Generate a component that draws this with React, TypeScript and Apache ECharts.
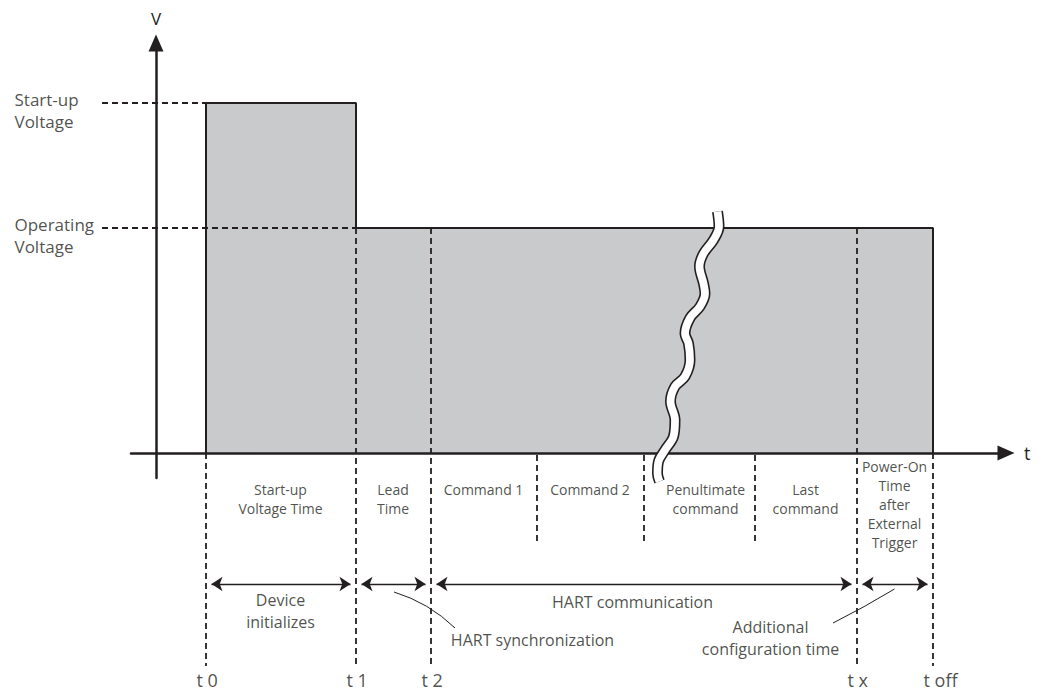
import React, { useEffect, useRef } from 'react';
import * as echarts from 'echarts';

// ---------- data (abstract time / voltage units) ----------
const timeMarks = [1.0, 4.0, 5.5, 14.02, 15.54];
const timeLabels = ['t 0', 't 1', 't 2', 't x', 't off'];
// level at which each mark's guide line starts (0 = axis, 4.5 = operating level)
const markGuideTop = [0, 4.5, 4.5, 4.5, 0];

const voltageLevels = [4.5, 7.0];
const voltageLabels = ['Operating\nVoltage', 'Start-up\nVoltage'];
// x where each level guide ends
const levelGuideEnd = [4.0, 1.0];

const profileT = [1.0, 1.0, 4.0, 4.0, 15.54, 15.54];
const profileV = [0, 7.0, 7.0, 4.5, 4.5, 0];

const commandDividers = [7.62, 9.76, 11.98];

const phaseNames = ['Start-up\nVoltage Time', 'Lead\nTime', 'Command 1', 'Command 2', 'Penultimate\ncommand', 'Last\ncommand'];
const phaseCenters = [2.5, 4.75, 6.56, 8.69, 11.0, 13.0];
const powerOnName = 'Power-On\nTime\nafter\nExternal\nTrigger';
const powerOnCenter = 14.78;

const spanStarts = [1.0, 4.0, 5.5, 14.02];
const spanEnds = [4.0, 5.5, 14.02, 15.54];

const noteNames = ['Device\ninitializes', 'HART communication', 'HART synchronization', 'Additional\nconfiguration time'];
const noteX = [2.5, 9.54, 7.54, 12.3];
const noteY = [-3.16, -2.98, -3.74, -3.7];

// callout leader lines
const calloutFrom = [[4.76, -2.78], [14.77, -2.72]];
const calloutTo = [[5.98, -3.5], [13.54, -3.4]];
const calloutBend = [0.12, 0.02];

// break mark (wave)
const waveT = [11.23, 11.26, 11.15, 10.95, 10.87, 10.95, 10.98, 10.88, 10.68, 10.58, 10.65, 10.68, 10.58, 10.38, 10.29, 10.38, 10.35, 10.18, 10.05, 10.03, 10.07];
const waveV = [4.83, 4.53, 4.26, 3.99, 3.73, 3.39, 3.19, 2.93, 2.70, 2.39, 2.19, 1.86, 1.53, 1.33, 1.03, 0.66, 0.33, 0.06, -0.17, -0.41, -0.57];

// row levels
const spanRowV = -2.62;
const guideBottomV = -4.26;
const dividerTopV = -0.04;
const dividerBottomV = -1.8;
const levelGuideStart = -1.08;
const levelLabelT = -2.82;
const phaseTopV = -0.54;
const powerOnMidV = -1.04;

// ---------- styles ----------
const INK = '#231f20';
const FILL = '#c9cacc';
const FONT = '"Open Sans", "Noto Sans", sans-serif';

function buildOption() {
  const arrowInset = 0.11;
  const dashed: any[] = [];
  voltageLevels.forEach((lv, i) => {
    dashed.push({ coords: [[levelGuideStart, lv], [levelGuideEnd[i], lv]] });
  });
  timeMarks.forEach((t, i) => {
    dashed.push({ coords: [[t, markGuideTop[i]], [t, guideBottomV]] });
  });
  commandDividers.forEach((t) => {
    dashed.push({ coords: [[t, dividerTopV], [t, dividerBottomV]] });
  });

  const spans = spanStarts.map((s, i) => ({
    coords: [[s + arrowInset, spanRowV], [spanEnds[i] - arrowInset, spanRowV]],
  }));

  const callouts = calloutFrom.map((f, i) => ({
    coords: [f, calloutTo[i]],
    lineStyle: { curveness: calloutBend[i] },
  }));

  const wave = waveT.map((t, i) => [t, waveV[i]]);

  const phases: any[] = phaseNames.map((n, i) => ({ name: n, value: [phaseCenters[i], phaseTopV] }));
  phases.push({ name: powerOnName, value: [powerOnCenter, powerOnMidV], label: { verticalAlign: 'middle' } });
  const notes = noteNames.map((n, i) => ({ name: n, value: [noteX[i], noteY[i]] }));
  const ticks = timeLabels.map((n, i) => ({ name: n, value: [timeMarks[i], guideBottomV] }));
  const levels = voltageLabels.map((n, i) => ({ name: n, value: [levelLabelT, voltageLevels[i]] }));

  const textSeries = (name: string, data: any[], label: any) => ({
    type: 'scatter',
    name,
    clip: false,
    z: 7,
    symbolSize: 1,
    silent: true,
    itemStyle: { color: 'rgba(0,0,0,0)' },
    data,
    label: {
      show: true,
      position: [0, 0],
      formatter: '{b}',
      color: INK,
      fontFamily: FONT,
      ...label,
    },
  });

  return {
    animation: false,
    backgroundColor: '#ffffff',
    grid: { left: 131, right: 36, top: 43, bottom: 212, containLabel: false },
    xAxis: {
      type: 'value',
      min: -0.5,
      max: 17,
      z: 3,
      name: 't',
      nameLocation: 'end',
      nameGap: 18,
      nameTextStyle: { color: INK, fontSize: 18, fontFamily: FONT, align: 'left', verticalAlign: 'middle' },
      axisLine: {
        show: true,
        onZero: true,
        symbol: ['none', 'triangle'],
        symbolSize: [15, 17],
        lineStyle: { color: INK, width: 2.5 },
      },
      axisTick: { show: false },
      splitLine: { show: false },
      axisLabel: { show: false },
    },
    yAxis: {
      type: 'value',
      min: -0.5,
      max: 8.2,
      z: 3,
      name: 'V',
      nameLocation: 'end',
      nameGap: 16,
      nameTextStyle: { color: INK, fontSize: 17, fontFamily: FONT },
      axisLine: {
        show: true,
        onZero: true,
        symbol: ['none', 'triangle'],
        symbolSize: [15, 17],
        lineStyle: { color: INK, width: 2.5 },
      },
      axisTick: { show: false },
      splitLine: { show: false },
      axisLabel: { show: false },
    },
    series: [
      {
        type: 'line',
        name: 'voltage',
        data: profileT.map((t, i) => [t, profileV[i]]),
        symbol: 'none',
        clip: false,
        z: 2,
        lineStyle: { color: INK, width: 2 },
        areaStyle: { color: FILL, opacity: 1 },
      },
      {
        type: 'lines',
        name: 'guides',
        coordinateSystem: 'cartesian2d',
        clip: false,
        z: 4,
        symbol: 'none',
        lineStyle: { color: INK, width: 1.8, type: [6, 4], opacity: 1 },
        data: dashed,
      },
      {
        type: 'lines',
        name: 'spans',
        coordinateSystem: 'cartesian2d',
        clip: false,
        z: 4,
        symbol: ['arrow', 'arrow'],
        symbolSize: 11,
        lineStyle: { color: INK, width: 1.3, opacity: 1 },
        data: spans,
      },
      {
        type: 'lines',
        name: 'callouts',
        coordinateSystem: 'cartesian2d',
        clip: false,
        z: 4,
        symbol: 'none',
        lineStyle: { color: INK, width: 1, opacity: 1 },
        data: callouts,
      },
      {
        type: 'line',
        name: 'break-outline',
        data: wave,
        smooth: 0.35,
        symbol: 'none',
        clip: false,
        z: 5,
        lineStyle: { color: INK, width: 11, cap: 'butt' },
      },
      {
        type: 'line',
        name: 'break-fill',
        data: wave,
        smooth: 0.35,
        symbol: 'none',
        clip: false,
        z: 6,
        lineStyle: { color: '#ffffff', width: 7.8, cap: 'butt' },
      },
      textSeries('phases', phases, { align: 'center', verticalAlign: 'top', fontSize: 14, lineHeight: 19 }),
      textSeries('notes', notes, { align: 'center', verticalAlign: 'middle', fontSize: 16, lineHeight: 22 }),
      textSeries('ticks', ticks, { align: 'left', verticalAlign: 'middle', fontSize: 18, lineHeight: 22, offset: [-9, 14] }),
      textSeries('levels', levels, { align: 'left', verticalAlign: 'middle', fontSize: 17, lineHeight: 22, offset: [0, 8] }),
    ],
  };
}

export default function App() {
  const ref = useRef<HTMLDivElement>(null);
  useEffect(() => {
    document.body.style.margin = '0';
    const chart = echarts.init(ref.current as HTMLDivElement, null, { renderer: 'svg' });
    chart.setOption(buildOption() as any);
    return () => chart.dispose();
  }, []);
  return (
    <div
      ref={ref}
      style={{ position: 'absolute', left: 0, top: 0, width: 1042, height: 690, background: '#ffffff' }}
    />
  );
}
